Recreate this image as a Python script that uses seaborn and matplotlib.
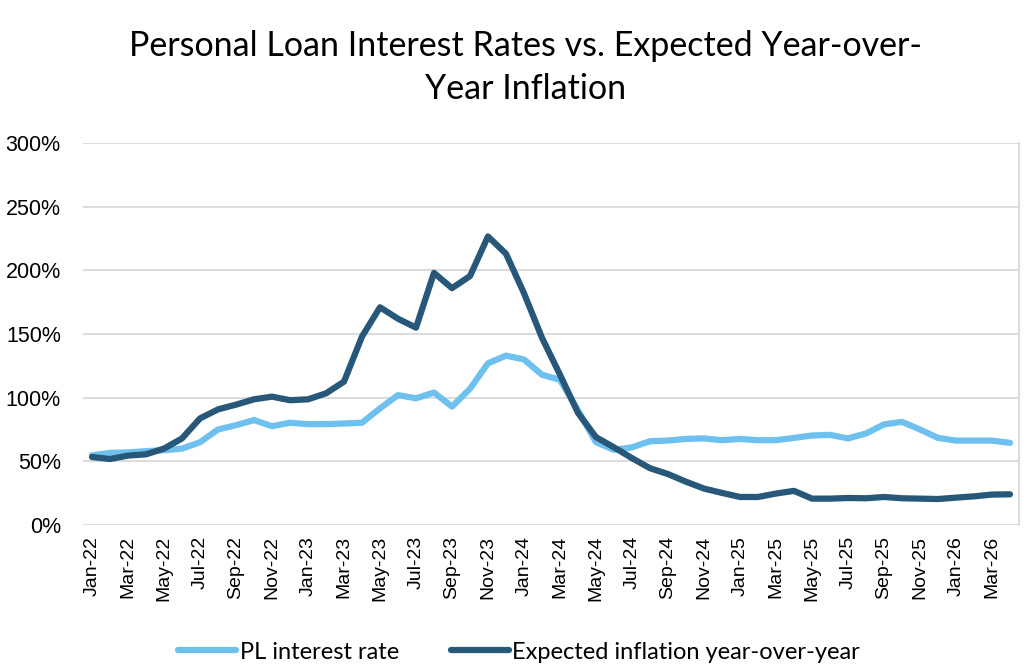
import numpy as np
import pandas as pd
import matplotlib
matplotlib.use("Agg")
import matplotlib.pyplot as plt
import seaborn as sns
from matplotlib.ticker import PercentFormatter

#monthly categories Jan-22 .. Apr-26
months = pd.date_range("2022-01-01", "2026-04-01", freq="MS").strftime("%b-%y").tolist()

#values (percent)
pl_rate = [54.7, 56.6, 57, 58, 58.7, 60, 65, 75, 78.4, 82.4, 77.6, 80.3, 79.2, 79.2, 79.7, 80.3,
           91.6, 102, 99.5, 104, 93, 107, 127, 133, 130, 118, 114, 90, 65, 59, 61, 65.8,
           66.3, 67.6, 68, 66.6, 67.6, 66.6, 66.6, 68.4, 70.3, 70.8, 68, 71.9, 79, 81,
           75, 68.4, 66.3, 66.3, 66.3, 64.5]
exp_inflation = [53.4, 51.8, 54.5, 55.5, 60, 68, 83.7, 90.8, 94.5, 98.7, 100.8, 98, 98.7, 103.4,
                 112.6, 148, 171, 162, 155, 198, 186, 195.5, 226.6, 213, 182, 147, 118, 88, 69,
                 61, 52.5, 44.6, 40, 34, 28.6, 25.2, 22, 22, 24.7, 26.8, 20.7, 20.7, 21.2, 21,
                 22, 21, 20.7, 20.4, 21.5, 22.5, 23.9, 24.1]

series_names = ["PL interest rate", "Expected inflation year-over-year"]
colors = ["#6EC1EF", "#27587A"]

df = pd.DataFrame({"Month": months, series_names[0]: pl_rate, series_names[1]: exp_inflation})
long = df.melt(id_vars="Month", var_name="Series", value_name="Value")
long["Pos"] = long["Month"].map({m: i for i, m in enumerate(months)})

sns.set_style("white")
plt.rcParams["font.family"] = ["Liberation Sans", "DejaVu Sans"]
plt.rcParams["text.color"] = "black"

fig = plt.figure(figsize=(10.24, 6.69), dpi=100)
ax = fig.add_axes([83/1024, 1-525/669, (1019-83)/1024, (525-143)/669])

sns.lineplot(data=long, x="Pos", y="Value", hue="Series", palette=colors, hue_order=series_names,
             linewidth=4.5, ax=ax, solid_capstyle="round")

ax.set_xlim(-0.5, len(months) - 0.5)
ax.set_ylim(0, 300)
ax.set_yticks(range(0, 301, 50))
ax.yaxis.set_major_formatter(PercentFormatter(decimals=0))
ax.set_xticks(range(0, len(months), 2))
ax.set_xticklabels(months[::2], rotation=90, fontsize=14)
ax.tick_params(axis="y", labelsize=15.5, pad=16, colors="black", length=0)
ax.tick_params(axis="x", pad=8, colors="black", length=0)
ax.set_xlabel("")
ax.set_ylabel("")
ax.grid(axis="y", color="#D9D9D9", linewidth=1.3)
ax.set_axisbelow(True)
for s in ["top", "left", "bottom"]:
    ax.spines[s].set_visible(False)
ax.spines["right"].set_color("#D9D9D9")
ax.spines["right"].set_linewidth(1.3)

fig.suptitle("Personal Loan Interest Rates vs. Expected Year-over-\nYear Inflation",
             x=0.513, y=0.955, fontsize=24.5, color="black",
             family=["Lato", "DejaVu Sans"], linespacing=1.42)

handles, labels = ax.get_legend_handles_labels()
ax.legend(handles, labels, loc="upper center", bbox_to_anchor=(0.466, -0.25), ncol=2,
          frameon=False, handlelength=2.45, handletextpad=0.15, columnspacing=2.2,
          prop={"family": ["Lato", "DejaVu Sans"], "size": 17})

fig.savefig("out.png", dpi=100)
